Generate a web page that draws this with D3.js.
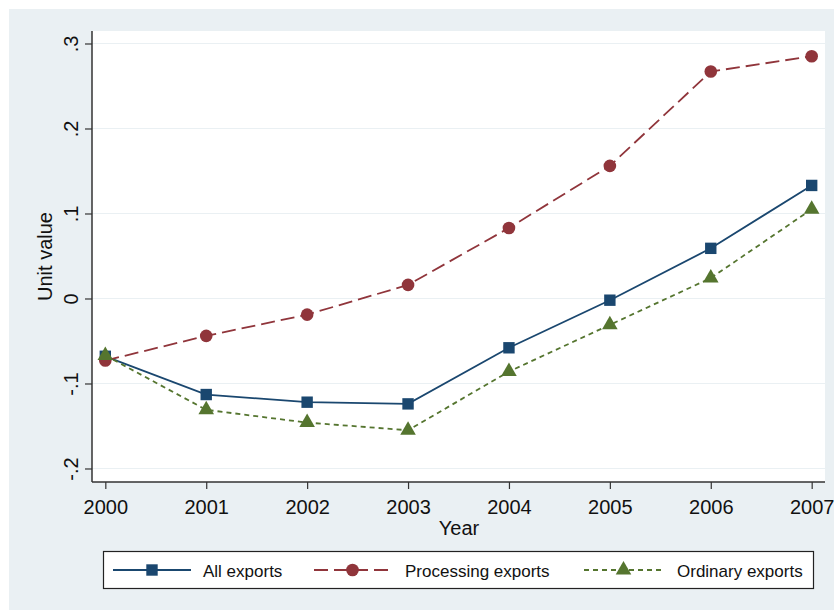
<!DOCTYPE html>
<html>
<head>
<meta charset="utf-8">
<script src="https://cdn.jsdelivr.net/npm/d3@7"></script>
<style>
  body { margin: 0; background: #fff; }
  text { font-family: "Liberation Sans", Arial, sans-serif; fill: #111; }
</style>
</head>
<body>
<div id="chart"></div>
<script>
// unit values by year
var years = [2000, 2001, 2002, 2003, 2004, 2005, 2006, 2007];
var allExports = [-0.068, -0.113, -0.122, -0.124, -0.058, -0.002, 0.059, 0.133];
var processingExports = [-0.073, -0.044, -0.019, 0.016, 0.083, 0.156, 0.267, 0.285];
var ordinaryExports = [-0.067, -0.131, -0.146, -0.155, -0.086, -0.031, 0.024, 0.105];
var yTicks = [-0.2, -0.1, 0, 0.1, 0.2, 0.3];
var yTickLabels = ["-.2", "-.1", "0", ".1", ".2", ".3"];

var svgWidth = 834;
var svgHeight = 611;

var plot = { left: 92, right: 825, top: 31, bottom: 482 };

var svg = d3.select("#chart")
  .append("svg")
  .attr("width", svgWidth)
  .attr("height", svgHeight);

// graph region + plot region
svg.append("rect")
  .attr("x", 9).attr("y", 9)
  .attr("width", svgWidth - 9).attr("height", svgHeight - 10)
  .attr("fill", "#eaf0f3");

svg.append("rect")
  .attr("x", plot.left).attr("y", plot.top)
  .attr("width", plot.right - plot.left).attr("height", plot.bottom - plot.top)
  .attr("fill", "#ffffff");

var xScale = d3.scaleLinear()
  .domain([1999.868, 2007.132])
  .range([plot.left, plot.right]);

var yScale = d3.scaleLinear()
  .domain([-0.2159, 0.3147])
  .range([plot.bottom, plot.top]);

// gridlines
svg.append("g")
  .selectAll("line")
  .data(yTicks)
  .enter()
  .append("line")
  .attr("x1", plot.left).attr("x2", plot.right)
  .attr("y1", d => yScale(d)).attr("y2", d => yScale(d))
  .attr("stroke", "#eaf0f3")
  .attr("stroke-width", 1.2);

// y axis
var leftAxis = d3.axisLeft(yScale)
  .tickValues(yTicks)
  .tickSize(7)
  .tickFormat((d, i) => yTickLabels[i]);

var yAxis = svg.append("g")
  .attr("transform", `translate(${plot.left}, 0)`)
  .call(leftAxis);

yAxis.select(".domain").attr("d", `M0,${plot.top}V${plot.bottom}`).attr("stroke", "#333").attr("stroke-width", 1.5);
yAxis.selectAll(".tick line").attr("stroke", "#333").attr("stroke-width", 1.2);
yAxis.selectAll(".tick text")
  .attr("x", null).attr("dy", null)
  .attr("transform", "translate(-21,0) rotate(-90)")
  .attr("text-anchor", "middle")
  .attr("dy", "0.35em")
  .style("font-size", "20px")
  .style("font-family", "'Liberation Sans', Arial, sans-serif")
  .attr("fill", "#111");

// x axis
var bottomAxis = d3.axisBottom(xScale)
  .tickValues(years)
  .tickSize(7)
  .tickFormat(d3.format("d"));

var xAxis = svg.append("g")
  .attr("transform", `translate(0, ${plot.bottom})`)
  .call(bottomAxis);

xAxis.select(".domain").attr("d", `M${plot.left},0H${plot.right}`).attr("stroke", "#333").attr("stroke-width", 1.5);
xAxis.selectAll(".tick line").attr("stroke", "#333").attr("stroke-width", 1.2);
xAxis.selectAll(".tick text")
  .attr("y", 32).attr("dy", null)
  .style("font-size", "20px")
  .style("font-family", "'Liberation Sans', Arial, sans-serif")
  .attr("fill", "#111");

// axis titles
svg.append("text")
  .attr("x", 459).attr("y", 535)
  .attr("text-anchor", "middle")
  .style("font-size", "20px")
  .text("Year");

svg.append("text")
  .attr("transform", `translate(52, ${(plot.top + plot.bottom) / 2}) rotate(-90)`)
  .attr("text-anchor", "middle")
  .style("font-size", "20px")
  .text("Unit value");

var series = [
  { name: "All exports", values: allExports, color: "#1a476f", dash: null, marker: "square" },
  { name: "Processing exports", values: processingExports, color: "#90353b", dash: "14,6", marker: "circle" },
  { name: "Ordinary exports", values: ordinaryExports, color: "#55752f", dash: "5,4", marker: "triangle" }
];

var symbols = {
  square: d3.symbol().type(d3.symbolSquare).size(130),
  circle: d3.symbol().type(d3.symbolCircle).size(125),
  triangle: d3.symbol().type(d3.symbolTriangle).size(105)
};

var line = d3.line()
  .x((d, i) => xScale(years[i]))
  .y(d => yScale(d));

series.forEach(function(s) {
  svg.append("path")
    .datum(s.values)
    .attr("d", line)
    .attr("fill", "none")
    .attr("stroke", s.color)
    .attr("stroke-width", 1.8)
    .attr("stroke-dasharray", s.dash);
});

series.forEach(function(s) {
  svg.append("g")
    .selectAll("path")
    .data(s.values)
    .enter()
    .append("path")
    .attr("d", symbols[s.marker])
    .attr("transform", (d, i) => `translate(${xScale(years[i])}, ${yScale(d)})`)
    .attr("fill", s.color);
});

// legend
var legend = svg.append("g");
legend.append("rect")
  .attr("x", 103.5).attr("y", 551.5)
  .attr("width", 710).attr("height", 37)
  .attr("fill", "#fff")
  .attr("stroke", "#222")
  .attr("stroke-width", 1.2);

var legendItems = [
  { x1: 113, x2: 191, text: 203 },
  { x1: 314, x2: 391, text: 405 },
  { x1: 584, x2: 663, text: 677 }
];

series.forEach(function(s, i) {
  var it = legendItems[i];
  var cy = 570;
  legend.append("line")
    .attr("x1", it.x1).attr("x2", it.x2)
    .attr("y1", cy).attr("y2", cy)
    .attr("stroke", s.color)
    .attr("stroke-width", 1.8)
    .attr("stroke-dasharray", s.dash);
  legend.append("path")
    .attr("d", symbols[s.marker])
    .attr("transform", `translate(${(it.x1 + it.x2) / 2}, ${cy})`)
    .attr("fill", s.color);
  legend.append("text")
    .attr("x", it.text).attr("y", 577)
    .style("font-size", "17px")
    .text(s.name);
});
</script>
</body>
</html>
